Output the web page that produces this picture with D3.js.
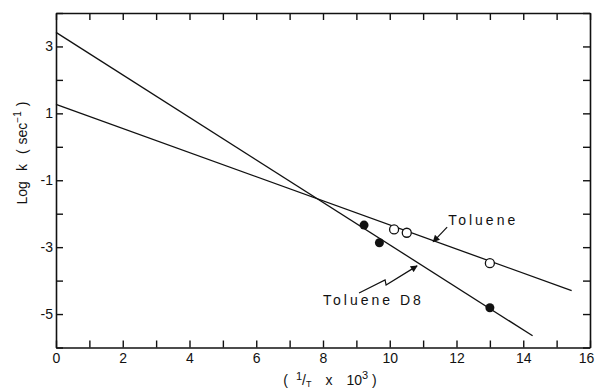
<!DOCTYPE html>
<html>
<head>
<meta charset="utf-8">
<script src="https://cdn.jsdelivr.net/npm/d3@7"></script>
<style>
  body { margin: 0; background: #fff; }
  svg { display: block; font-family: "Liberation Sans", Arial, sans-serif; }
</style>
</head>
<body>
<svg id="chart" width="596" height="391"></svg>
<script>
// measured points (1/T x 10^3, log k)
const tolueneX = [10.13, 10.51, 13.0];
const tolueneY = [-2.47, -2.57, -3.48];
const d8X = [9.23, 9.69, 13.0];
const d8Y = [-2.34, -2.87, -4.81];

// fitted lines (end points)
const tolueneLineX = [0, 15.45];
const tolueneLineY = [1.27, -4.30];
const d8LineX = [0, 14.28];
const d8LineY = [3.42, -5.65];

const xTicks = d3.range(0, 17, 1);
const xTickLabels = [0, 2, 4, 6, 8, 10, 12, 14, 16];
const yTicks = d3.range(-6, 5, 1);
const yTickLabels = [3, 1, -1, -3, -5];

const svg = d3.select("#chart");
const margin = { top: 13, right: 6, bottom: 43.5, left: 56 },
  width = 596 - margin.left - margin.right,
  height = 391 - margin.top - margin.bottom;

const x = d3.scaleLinear().domain([0, 16]).range([margin.left, margin.left + width]);
const y = d3.scaleLinear().domain([-6, 4]).range([margin.top + height, margin.top]);

svg.append("defs").append("marker")
  .attr("id", "arrow")
  .attr("viewBox", "0 0 10 10")
  .attr("refX", 9).attr("refY", 5)
  .attr("markerWidth", 9).attr("markerHeight", 7)
  .attr("markerUnits", "userSpaceOnUse")
  .attr("orient", "auto")
  .append("path").attr("d", "M0,0L10,5L0,10Z").attr("fill", "#111");

// axes, ticks pointing inward
const tick = -7;
svg.append("g").attr("class", "axis xbottom")
  .attr("transform", "translate(0," + (margin.top + height) + ")")
  .call(d3.axisBottom(x).tickValues(xTicks).tickSizeInner(tick).tickSizeOuter(0).tickPadding(6)
    .tickFormat(d => xTickLabels.indexOf(d) >= 0 ? d : ""));
svg.append("g").attr("class", "axis")
  .attr("transform", "translate(0," + margin.top + ")")
  .call(d3.axisTop(x).tickValues(xTicks).tickSizeInner(tick).tickSizeOuter(0).tickFormat(""));
svg.append("g").attr("class", "axis")
  .attr("transform", "translate(" + margin.left + ",0)")
  .call(d3.axisLeft(y).tickValues(yTicks).tickSizeInner(tick).tickSizeOuter(0).tickPadding(3)
    .tickFormat(d => yTickLabels.indexOf(d) >= 0 ? (d < 0 ? "-" + Math.abs(d) : d) : ""));
svg.append("g").attr("class", "axis")
  .attr("transform", "translate(" + (margin.left + width) + ",0)")
  .call(d3.axisRight(y).tickValues(yTicks).tickSizeInner(tick).tickSizeOuter(0).tickFormat(""));

svg.selectAll(".axis path").attr("stroke", "#111").attr("stroke-width", 1.6);
svg.selectAll(".axis line").attr("stroke", "#111").attr("stroke-width", 1.4);
svg.selectAll(".axis text").attr("fill", "#111").attr("font-size", 14)
  .attr("font-family", "\"Liberation Sans\", Arial, sans-serif");
// keep the last label inside the page
svg.selectAll(".xbottom .tick text").filter(d => d === 16).attr("dx", -4);

// fitted lines
const line = d3.line().x(d => x(d[0])).y(d => y(d[1]));
[[tolueneLineX, tolueneLineY], [d8LineX, d8LineY]].forEach(([xs, ys]) => {
  svg.append("path")
    .datum(xs.map((v, i) => [v, ys[i]]))
    .attr("d", line)
    .attr("fill", "none")
    .attr("stroke", "#111")
    .attr("stroke-width", 1.3);
});

// points
svg.append("g").selectAll("circle")
  .data(d8X.map((v, i) => [v, d8Y[i]]))
  .enter().append("circle")
  .attr("cx", d => x(d[0])).attr("cy", d => y(d[1])).attr("r", 4.5)
  .attr("fill", "#111");
svg.append("g").selectAll("circle")
  .data(tolueneX.map((v, i) => [v, tolueneY[i]]))
  .enter().append("circle")
  .attr("cx", d => x(d[0])).attr("cy", d => y(d[1])).attr("r", 4.5)
  .attr("fill", "#fff").attr("stroke", "#111").attr("stroke-width", 1.3);

// annotations
svg.append("text")
  .attr("x", x(11.75)).attr("y", y(-2.34))
  .attr("font-size", 14).attr("letter-spacing", 3).attr("fill", "#111")
  .text("Toluene");
svg.append("path")
  .datum([[11.72, -2.40], [11.30, -2.84]])
  .attr("d", line).attr("fill", "none").attr("stroke", "#111").attr("stroke-width", 1.2)
  .attr("marker-end", "url(#arrow)");

svg.append("text")
  .attr("x", x(8.0)).attr("y", y(-4.73))
  .attr("font-size", 14).attr("letter-spacing", 3).attr("fill", "#111")
  .text("Toluene D8");
svg.append("path")
  .datum([[9.08, -4.37], [9.86, -3.98], [9.89, -4.13], [10.82, -3.56]])
  .attr("d", line).attr("fill", "none").attr("stroke", "#111").attr("stroke-width", 1.2)
  .attr("marker-end", "url(#arrow)");

// axis titles
const xt = svg.append("text")
  .attr("x", 330).attr("y", 385)
  .attr("text-anchor", "middle").attr("font-size", 14).attr("fill", "#111");
xt.append("tspan").text("(");
xt.append("tspan").attr("font-size", 11).attr("dx", 8).attr("dy", -5).text("1");
xt.append("tspan").attr("dy", 5).text("/");
xt.append("tspan").attr("font-size", 9).attr("dy", 2).text("T");
xt.append("tspan").attr("dx", 14).attr("dy", -2).text("x");
xt.append("tspan").attr("dx", 14).text("10");
xt.append("tspan").attr("font-size", 11).attr("dy", -6).text("3");
xt.append("tspan").attr("dx", 4).attr("dy", 6).text(")");

const yt = svg.append("text")
  .attr("transform", "translate(27,153) rotate(-90)")
  .attr("text-anchor", "middle").attr("font-size", 14).attr("fill", "#111");
yt.append("tspan").text("Log");
yt.append("tspan").attr("dx", 10).text("k");
yt.append("tspan").attr("dx", 10).text("(");
yt.append("tspan").attr("dx", 5).text("sec");
yt.append("tspan").attr("font-size", 10).attr("dy", -6).text("−1");
yt.append("tspan").attr("dx", 5).attr("dy", 6).text(")");
</script>
</body>
</html>
